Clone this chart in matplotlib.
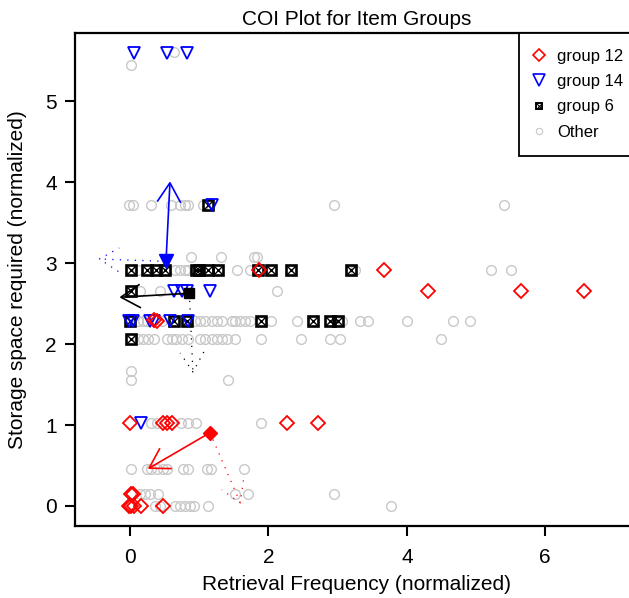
import numpy as np
import matplotlib.pyplot as plt
from matplotlib.patches import FancyArrowPatch
from matplotlib.lines import Line2D

plt.rcParams['font.family'] = ['Liberation Sans', 'DejaVu Sans']

# group 12 (red diamonds)
g12_x = [1.87, 3.67, 4.30, 5.65, 6.56, 0.39, 0.35, 0.0, 0.48, 0.54, 0.60, 2.27, 2.71,
         0.01, 0.05, -0.01, 0.02, 0.06, 0.16, 0.48]
g12_y = [2.91, 2.91, 2.65, 2.65, 2.65, 2.28, 2.30, 1.03, 1.03, 1.03, 1.03, 1.03, 1.03,
         0.15, 0.15, 0.0, 0.0, 0.0, 0.0, 0.0]

# group 14 (blue triangles)
g14_x = [0.06, 0.54, 0.83, 1.18, 0.63, 0.75, 0.82, 1.16, -0.02, 0.05, 0.29, 0.34, 0.58, 0.84, 0.16]
g14_y = [5.59, 5.59, 5.59, 3.72, 2.65, 2.65, 2.65, 2.65, 2.28, 2.28, 2.28, 2.28, 2.28, 2.28, 1.03]

# group 6 (boxed x)
g6_x = [1.12, 0.01, 0.24, 0.38, 0.50, 0.95, 0.99, 1.13, 1.27, 1.85, 2.04, 2.33, 3.19,
        0.01, 0.0, 0.63, 0.83, 1.89, 2.65, 2.89, 3.01, 0.01]
g6_y = [3.72, 2.91, 2.91, 2.91, 2.91, 2.91, 2.91, 2.91, 2.91, 2.91, 2.91, 2.91, 2.91,
        2.65, 2.28, 2.28, 2.28, 2.28, 2.28, 2.28, 2.28, 2.06]

# other items, one list of x per storage row
other_rows_y = [5.60, 5.44, 3.72, 3.08, 2.91, 2.65, 2.28, 2.06, 1.67, 1.56, 1.03, 0.46, 0.15, 0.0]
other_rows_x = [
    [0.64],
    [0.01],
    [-0.01, 0.05, 0.30, 0.59, 0.72, 0.79, 0.84, 1.06, 2.95, 5.40],
    [0.88, 1.31, 1.79, 1.84],
    [0.12, 0.65, 0.72, 0.79, 0.84, 1.54, 1.73, 3.25, 5.21, 5.50],
    [0.15, 0.44, 2.12],
    [0.12, 0.19, 0.24, 0.46, 0.94, 1.01, 1.08, 1.18, 1.25, 1.33, 1.47, 1.52, 1.59, 1.66,
     1.73, 2.04, 2.41, 3.06, 3.32, 3.44, 4.00, 4.67, 4.91],
    [0.12, 0.19, 0.26, 0.34, 0.53, 0.60, 0.67, 0.75, 0.84, 1.01, 1.08, 1.18, 1.25, 1.33,
     1.40, 1.51, 1.89, 2.47, 2.89, 3.04, 4.49],
    [0.01],
    [0.01, 1.41],
    [0.31, 0.39, 0.74, 0.84, 0.96, 1.89],
    [0.01, 0.24, 0.31, 0.39, 0.47, 0.54, 0.77, 0.84, 1.11, 1.17, 1.65],
    [0.14, 0.22, 0.29, 0.40, 1.51, 1.70, 2.95],
    [0.36, 0.43, 0.65, 0.72, 0.79, 0.87, 0.92, 1.12, 3.77],
]

# group centroids and where their arrows point (order: 12, 14, 6)
grp_colors = ['#ff0000', '#0000ff', 'black']
grp_markers = ['D', 'v', 's']
cent_x = [1.156, 0.52, 0.857]
cent_y = [0.905, 3.02, 2.626]
solid_x = [0.255, 0.578, -0.155]
solid_y = [0.457, 4.01, 2.577]
dotted_x = [1.60, -0.46, 0.91]
dotted_y = [0.025, 3.05, 1.64]

other_x = [x for xs in other_rows_x for x in xs]
other_y = [y for xs, y in zip(other_rows_x, other_rows_y) for _ in xs]

fig = plt.figure(figsize=(6.29, 5.98), dpi=100)
ax = fig.add_axes([75 / 629, 1 - 526 / 598, 564 / 629, 493 / 598])

ax.plot(other_x, other_y, 'o', ms=7, mfc='none', mec='#c8c8c8', mew=1.0, zorder=2)
ax.plot(g6_x, g6_y, 's', ms=6.8, mfc='none', mec='black', mew=1.9, zorder=3)
ax.plot(g6_x, g6_y, 'x', ms=6.8, mec='black', mew=1.0, zorder=3)
ax.plot(g14_x, g14_y, 'v', ms=9, mfc='none', mec='#0000ff', mew=1.3, zorder=4)
ax.plot(g12_x, g12_y, 'D', ms=6.8, mfc='none', mec='#ff0000', mew=1.3, zorder=5)

# arrows from each centroid: solid and dotted
for i in range(3):
    for tx, ty, ls, lw in [(solid_x[i], solid_y[i], '-', 1.2),
                           (dotted_x[i], dotted_y[i], (0, (1, 5)), 0.9)]:
        arr = FancyArrowPatch((cent_x[i], cent_y[i]), (tx, ty),
                              arrowstyle='->,head_length=14,head_width=8.5',
                              mutation_scale=1, shrinkA=0, shrinkB=0,
                              color=grp_colors[i], lw=lw, linestyle=ls,
                              capstyle='butt', zorder=6)
        ax.add_patch(arr)
    ax.plot(cent_x[i], cent_y[i], grp_markers[i], ms=[7.2, 10, 7][i],
            color=grp_colors[i], zorder=7)

ax.set_xlim(-0.795, 7.355)
ax.set_ylim(-0.247, 5.84)
ax.set_xticks([0, 2, 4, 6])
ax.set_yticks([0, 1, 2, 3, 4, 5])
ax.tick_params(direction='out', length=7, width=1.5, labelsize=15, pad=6)
ax.tick_params(axis='x', pad=9)
for s in ax.spines.values():
    s.set_linewidth(1.6)

ax.set_title('COI Plot for Item Groups', fontsize=15, pad=6)
ax.set_xlabel('Retrieval Frequency (normalized)', fontsize=15)
ax.set_ylabel('Storage space required (normalized)', fontsize=15)
ax.xaxis.set_label_coords(0.5, -0.1)
ax.yaxis.set_label_coords(-0.085, 0.5)

handles = [
    Line2D([], [], ls='none', marker='D', ms=6.5, mfc='none', mec='#ff0000', mew=1.2),
    Line2D([], [], ls='none', marker='v', ms=9, mfc='none', mec='#0000ff', mew=1.2),
    (Line2D([], [], ls='none', marker='s', ms=5, mfc='none', mec='black', mew=1.4),
     Line2D([], [], ls='none', marker='x', ms=5, mec='black', mew=0.8)),
    Line2D([], [], ls='none', marker='o', ms=4.5, mfc='none', mec='#c8c8c8', mew=0.8),
]
leg = ax.legend(handles, ['group 12', 'group 14', 'group 6', 'Other'],
                loc='upper right', borderaxespad=0, fontsize=12, fancybox=False,
                framealpha=1, edgecolor='black', handlelength=0.6, handletextpad=0.75,
                labelspacing=0.62, borderpad=0.95)
leg.get_frame().set_linewidth(1.3)

plt.savefig('out.png', dpi=100)
